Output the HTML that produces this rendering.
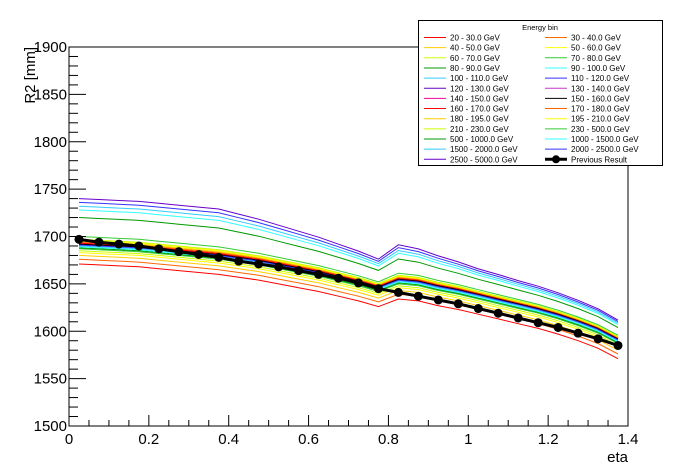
<!DOCTYPE html>
<html><head><meta charset="utf-8"><style>
body{margin:0;background:#fff;}
svg{display:block;font-family:"Liberation Sans",Arial,sans-serif;}
</style></head><body>
<svg id="chart" width="698" height="474" viewBox="0 0 698 474">
<rect x="0" y="0" width="698" height="474" fill="#fff"/>
<g id="plot"></g>
<g id="axes"></g>
<g id="legend"></g>
</svg>
<script>
const etaCenters=[0.025,0.075,0.125,0.175,0.225,0.275,0.325,0.375,0.425,0.475,0.525,0.575,0.625,0.675,0.725,0.775,0.825,0.875,0.925,0.975,1.025,1.075,1.125,1.175,1.225,1.275,1.325,1.375];
const medianShape=[1693,1692,1691,1690,1688,1686,1684,1682,1679,1676,1672,1668,1664,1659,1654,1648,1656,1654,1649,1645,1640,1635,1630,1625,1619,1612,1604,1593];
const upperSpread=[1,1,1,1,1,1,1,1,0.95,0.9,0.85,0.8,0.75,0.7,0.65,0.6,0.75,0.7,0.65,0.6,0.55,0.53,0.5,0.48,0.46,0.44,0.42,0.4];
const binLabels=["20 - 30.0 GeV","30 - 40.0 GeV","40 - 50.0 GeV","50 - 60.0 GeV","60 - 70.0 GeV","70 - 80.0 GeV","80 - 90.0 GeV","90 - 100.0 GeV","100 - 110.0 GeV","110 - 120.0 GeV","120 - 130.0 GeV","130 - 140.0 GeV","140 - 150.0 GeV","150 - 160.0 GeV","160 - 170.0 GeV","170 - 180.0 GeV","180 - 195.0 GeV","195 - 210.0 GeV","210 - 230.0 GeV","230 - 500.0 GeV","500 - 1000.0 GeV","1000 - 1500.0 GeV","1500 - 2000.0 GeV","2000 - 2500.0 GeV","2500 - 5000.0 GeV"];
const binOffsets=[-22,-17,-13,-10,-8,-6,-5,-4,-3,-2,-1,0,0,-1,0,1,2,3,4,7,27,35,39,43,47];
const binColors=["#ff0000","#ff6600","#ffcc00","#ffff00","#ccff00","#33cc33","#009900","#33ffff","#33ccff","#3333ff","#6600cc","#cc33cc","#ff0099","#000000","#ff0000","#ff6600","#ffcc00","#ffff00","#ccff00","#33cc33","#009900","#33ffff","#33ccff","#3333ff","#6600cc"];
const prevResult=[1697,1694,1692,1690,1687,1684,1681,1678,1674,1671,1668,1664,1660,1656,1651,1645,1641,1637,1633,1629,1624,1619,1614,1609,1604,1598,1592,1585];
const xTicks=[0,0.2,0.4,0.6,0.8,1,1.2,1.4];
const yTicks=[1500,1550,1600,1650,1700,1750,1800,1850,1900];

const NS="http://www.w3.org/2000/svg";
const X0=69,X1=628,Y0=426,Y1=47;
const xS=v=>X0+(v-0)/1.4*(X1-X0);
const yS=v=>Y0-(v-1500)/400*(Y0-Y1);
function mk(tag,attrs,parent){const e=document.createElementNS(NS,tag);for(const k in attrs)e.setAttribute(k,attrs[k]);parent.appendChild(e);return e;}
const plot=document.getElementById('plot'),axes=document.getElementById('axes'),leg=document.getElementById('legend');

binLabels.forEach((lab,k)=>{
  const pts=etaCenters.map((x,i)=>{const o=binOffsets[k];const v=medianShape[i]+(o>0?o*upperSpread[i]:o);return xS(x).toFixed(1)+","+yS(v).toFixed(1);}).join(" ");
  const pl=mk('polyline',{points:pts,fill:'none',stroke:binColors[k],'stroke-width':1},plot);
  
  
});
const pp=mk('polyline',{points:etaCenters.map((x,i)=>xS(x).toFixed(1)+","+yS(prevResult[i]).toFixed(1)).join(" "),fill:'none',stroke:'#000','stroke-width':3},plot);


etaCenters.forEach((x,i)=>{
  const c=mk('circle',{cx:xS(x),cy:yS(prevResult[i]),r:4.5,fill:'#000'},plot);
  
  
});

const fr=mk('rect',{x:X0,y:Y1,width:X1-X0,height:Y0-Y1,fill:'none',stroke:'#000','stroke-width':1},axes);


for(let v=1500;v<=1900;v+=10){const major=(v%50===0);mk('line',{x1:X0,x2:X0+(major?17:9),y1:yS(v),y2:yS(v),stroke:'#000','stroke-width':1},axes);}
yTicks.forEach(v=>{const t=mk('text',{x:67,y:yS(v)+5,'text-anchor':'end','font-size':15},axes);t.textContent=v;
  
  });
for(let i=0;i<=28;i++){const v=i*0.05;const major=(i%4===0);mk('line',{x1:xS(v),x2:xS(v),y1:Y0,y2:Y0-(major?11:6),stroke:'#000','stroke-width':1},axes);}
xTicks.forEach(v=>{const t=mk('text',{x:xS(v),y:444,'text-anchor':'middle','font-size':15},axes);t.textContent=String(v);
  
  });
const xt=mk('text',{x:628,y:462,'text-anchor':'end','font-size':15},axes);xt.textContent='eta';


const yt=mk('text',{x:0,y:0,'text-anchor':'end','font-size':15,transform:'translate(35,47) rotate(-90)'},axes);yt.textContent='R2 [mm]';



const lb=mk('rect',{x:418.5,y:20.5,width:244,height:145,fill:'#fff',stroke:'#000','stroke-width':1},leg);


const lt=mk('text',{x:540,y:30,'text-anchor':'middle','font-size':7.5},leg);lt.textContent='Energy bin';


const entries=binLabels.map((l,k)=>({l,c:binColors[k]}));entries.push({l:'Previous Result',c:'#000',prev:true});
entries.forEach((e,k)=>{
  const col=k%2,row=Math.floor(k/2);
  const lx=col?545:424,ly=37.5+row*10.15;
  const g=mk('g',{},leg);
  
  
  mk('line',{x1:lx,x2:lx+22,y1:ly,y2:ly,stroke:e.c,'stroke-width':e.prev?3:1},g);
  if(e.prev)mk('circle',{cx:lx+11,cy:ly,r:4,fill:'#000'},g);
  const t=mk('text',{x:lx+26,y:ly+3,'font-size':8},g);t.textContent=e.l;
});
</script>
</body></html>
